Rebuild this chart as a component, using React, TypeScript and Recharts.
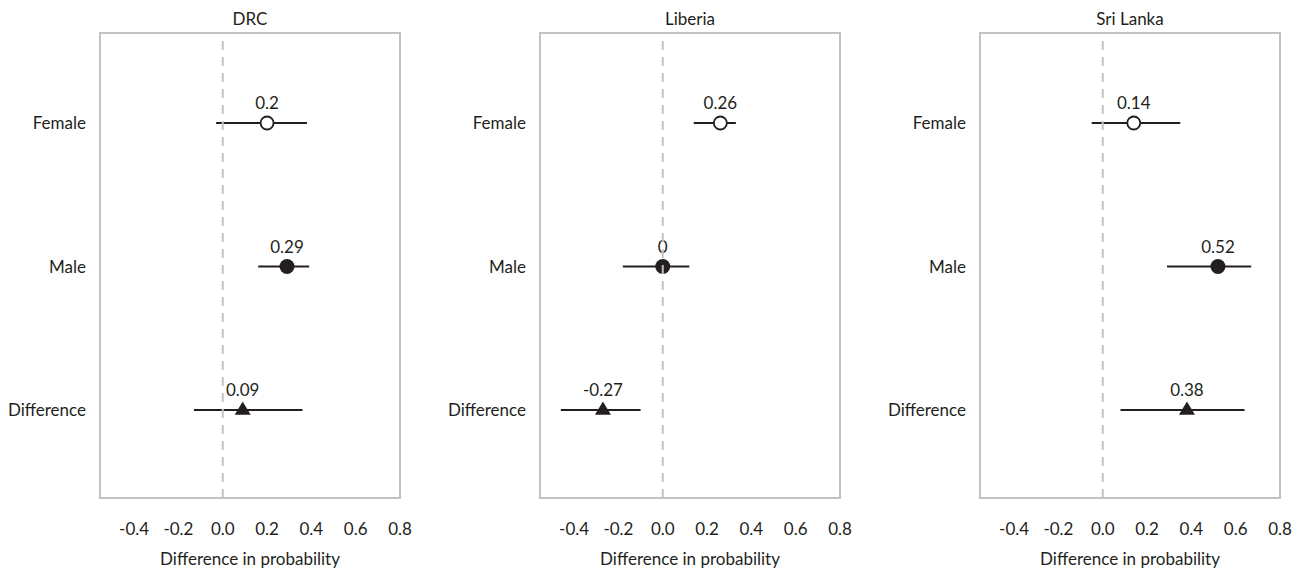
import { ScatterChart, Scatter, XAxis, YAxis, ErrorBar, ReferenceLine, ReferenceArea } from 'recharts';

// panels, rows and estimates
const countries = ['DRC', 'Liberia', 'Sri Lanka'];
const groups = ['Female', 'Male', 'Difference'];
const estimates = [
  [0.2, 0.29, 0.09],
  [0.26, 0, -0.27],
  [0.14, 0.52, 0.38],
];
const lower = [
  [-0.03, 0.16, -0.13],
  [0.14, -0.18, -0.46],
  [-0.05, 0.29, 0.08],
];
const upper = [
  [0.38, 0.39, 0.36],
  [0.33, 0.12, -0.1],
  [0.35, 0.67, 0.64],
];
const xTicks = [-0.4, -0.2, 0, 0.2, 0.4, 0.6, 0.8];

const X_DOMAIN: [number, number] = [-0.554, 0.8];
const Y_DOMAIN: [number, number] = [0.373, 3.613];
const INK = '#231f20';
const FRAME = '#c2c2c2';
const FS = 17;

function Marker(props: any) {
  const { cx, cy, payload } = props;
  let mark;
  if (payload.group === 'Female') {
    mark = <circle cx={cx} cy={cy} r={6.5} fill="#fff" stroke={INK} strokeWidth={1.8} />;
  } else if (payload.group === 'Male') {
    mark = <circle cx={cx} cy={cy} r={7.5} fill={INK} />;
  } else {
    mark = <polygon points={`${cx},${cy - 8.5} ${cx + 8},${cy + 4.8} ${cx - 8},${cy + 4.8}`} fill={INK} />;
  }
  return (
    <g>
      {mark}
      <text x={cx} y={cy - 14} textAnchor="middle" fontSize={FS} fill={INK}>
        {String(payload.value)}
      </text>
    </g>
  );
}

function Panel({ idx }: { idx: number }) {
  const data = groups.map((g, i) => ({
    x: estimates[idx][i],
    y: i + 1,
    value: estimates[idx][i],
    group: g,
    err: [estimates[idx][i] - lower[idx][i], upper[idx][i] - estimates[idx][i]],
  }));

  return (
    <ScatterChart width={440} height={568} margin={{ top: 33, right: 40, bottom: 0, left: 0 }}>
      <XAxis
        type="number"
        dataKey="x"
        domain={X_DOMAIN}
        ticks={xTicks}
        allowDataOverflow
        tickFormatter={(v: number) => v.toFixed(1)}
        axisLine={false}
        tickLine={false}
        tickMargin={19}
        height={70}
        tick={{ fill: INK, fontSize: FS }}
        label={{ value: 'Difference in probability', position: 'insideBottom', offset: 3, fill: INK, fontSize: FS }}
      />
      <YAxis
        type="number"
        dataKey="y"
        domain={Y_DOMAIN}
        ticks={[1, 2, 3]}
        reversed
        allowDataOverflow
        tickFormatter={(v: number) => groups[v - 1]}
        axisLine={false}
        tickLine={false}
        tickMargin={8}
        width={100}
        tick={{ fill: INK, fontSize: FS }}
      />
      <ReferenceArea
        x1={X_DOMAIN[0]}
        x2={X_DOMAIN[1]}
        y1={Y_DOMAIN[0]}
        y2={Y_DOMAIN[1]}
        fill="none"
        stroke={FRAME}
        strokeWidth={2}
      />
      <Scatter data={data} shape={Marker} isAnimationActive={false}>
        <ErrorBar dataKey="err" direction="x" width={0} stroke={INK} strokeWidth={2} isAnimationActive={false} />
      </Scatter>
      <ReferenceLine x={0} stroke={FRAME} strokeWidth={2} strokeDasharray="9 7" zIndex={700} />
    </ScatterChart>
  );
}

export default function App() {
  return (
    <div
      style={{
        position: 'absolute',
        left: 0,
        top: 0,
        width: 1301,
        height: 568,
        background: '#fff',
        fontFamily: 'Lato, "Open Sans", sans-serif',
        color: INK,
      }}
    >
      {countries.map((c, i) => (
        <div key={c}>
          <div
            style={{
              position: 'absolute',
              left: i * 440 + 100,
              top: 9,
              width: 300,
              height: 20,
              lineHeight: '20px',
              textAlign: 'center',
              fontSize: 17,
            }}
          >
            {c}
          </div>
          <div style={{ position: 'absolute', left: i * 440, top: 0 }}>
            <Panel idx={i} />
          </div>
        </div>
      ))}
    </div>
  );
}
